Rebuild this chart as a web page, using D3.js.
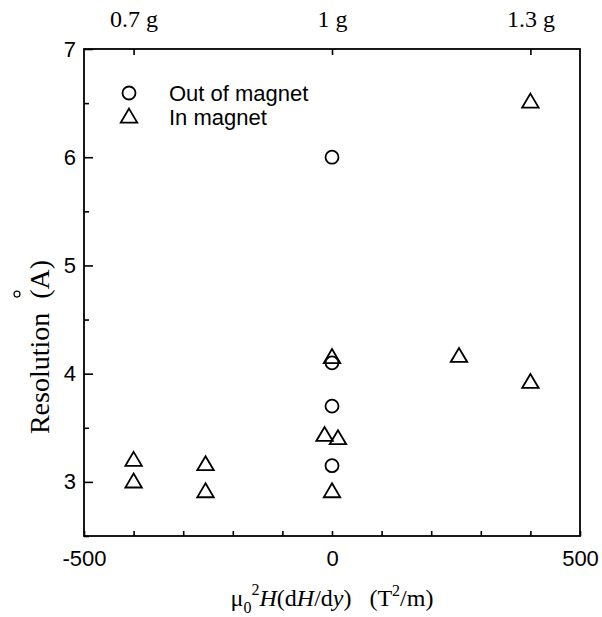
<!DOCTYPE html>
<html>
<head>
<meta charset="utf-8">
<script src="https://cdn.jsdelivr.net/npm/d3@7"></script>
<style>
  html, body { margin: 0; padding: 0; background: #fff; }
  svg { display: block; }
</style>
</head>
<body>
<div id="chart"></div>
<script>
// Field-gradient product μ0²H(dH/dy) in T²/m, resolution in Å
const outOfMagnetX = [0, 0, 0, 0];
const outOfMagnetY = [6.0, 4.1, 3.7, 3.15];

const inMagnetX = [-400, -400, -255, -255, 0, -15, 12, 0, 256, 400, 400];
const inMagnetY = [3.2, 3.0, 3.16, 2.91, 4.15, 3.43, 3.40, 2.91, 4.16, 6.51, 3.92];

const bottomTickValues = d3.range(-500, 501, 100);
const bottomTickLabels = { "-500": "-500", "0": "0", "500": "500" };
const leftTickValues = d3.range(2.5, 7.01, 0.5);
const topTickValues = [-400, 0, 400];
const topTickLabels = ["0.7 g", "1 g", "1.3 g"];

const legendLabels = ["Out of magnet", "In magnet"];

const W = 602, H = 617;
const margin = { left: 84, right: 22, top: 49, bottom: 81 };

const svg = d3.select("#chart").append("svg")
  .attr("width", W).attr("height", H);

const x = d3.scaleLinear().domain([-500, 500]).range([margin.left, W - margin.right]);
const y = d3.scaleLinear().domain([2.5, 7]).range([H - margin.bottom, margin.top]);

const sans = "'Liberation Sans', Arial, sans-serif";
const serif = "'Liberation Serif', 'Times New Roman', serif";

// Frame
svg.append("rect")
  .attr("x", x(-500)).attr("y", y(7))
  .attr("width", x(500) - x(-500)).attr("height", y(2.5) - y(7))
  .attr("fill", "none").attr("stroke", "#000").attr("stroke-width", 1.8);

// Bottom axis: inward ticks every 100, labels at -500, 0, 500
const bottomAxis = d3.axisBottom(x)
  .tickValues(bottomTickValues)
  .tickSizeInner(-5).tickSizeOuter(0).tickPadding(14)
  .tickFormat(d => bottomTickLabels[String(d)] || "");
const gb = svg.append("g").attr("transform", `translate(0,${y(2.5)})`).call(bottomAxis);
gb.select(".domain").remove();
gb.selectAll(".tick line").attr("stroke-width", 1.6);
gb.selectAll(".tick text").attr("font-family", sans).attr("font-size", 22).attr("fill", "#000");

// Left axis: major ticks at integers, minor at halves
const gl = svg.append("g").attr("transform", `translate(${x(-500)},0)`)
  .call(d3.axisLeft(y).tickValues(leftTickValues).tickSizeInner(0).tickSizeOuter(0).tickPadding(8)
    .tickFormat(d => Number.isInteger(d) ? String(d) : ""));
gl.select(".domain").remove();
gl.selectAll(".tick").each(function(d) {
  const len = Number.isInteger(d) ? 9 : 5;
  d3.select(this).select("line").attr("x2", len).attr("stroke", "#000").attr("stroke-width", 1.6);
});
gl.selectAll(".tick text").attr("font-family", sans).attr("font-size", 22).attr("fill", "#000");

// Top axis: gravity-equivalent labels
const gt = svg.append("g").attr("transform", `translate(0,${y(7)})`)
  .call(d3.axisTop(x).tickValues(topTickValues).tickSizeInner(-6).tickSizeOuter(0).tickPadding(22)
    .tickFormat((d, i) => topTickLabels[i]));
gt.select(".domain").remove();
gt.selectAll(".tick line").attr("stroke-width", 1.6);
gt.selectAll(".tick text").attr("font-family", serif).attr("font-size", 24).attr("fill", "#000")
  .attr("xml:space", "preserve").style("white-space", "pre");

// Marker shapes
const circleR = 6.5;
function trianglePath(cx, cy) {
  const w = 16.5, h = 14;
  return `M${cx},${cy - h * 0.6}L${cx + w / 2},${cy + h * 0.4}L${cx - w / 2},${cy + h * 0.4}Z`;
}

const pts = svg.append("g").attr("fill", "none").attr("stroke", "#000").attr("stroke-width", 1.8);

pts.selectAll("path.tri")
  .data(d3.range(inMagnetX.length))
  .join("path").attr("class", "tri")
  .attr("d", i => trianglePath(x(inMagnetX[i]), y(inMagnetY[i])));

pts.selectAll("circle.out")
  .data(d3.range(outOfMagnetX.length))
  .join("circle").attr("class", "out")
  .attr("cx", i => x(outOfMagnetX[i]))
  .attr("cy", i => y(outOfMagnetY[i]))
  .attr("r", circleR);

// Legend
const lg = svg.append("g");
const legendSymX = 129, legendTextX = 169;
const legendRowY = [93, 117];
lg.append("circle").attr("cx", legendSymX).attr("cy", legendRowY[0]).attr("r", circleR)
  .attr("fill", "none").attr("stroke", "#000").attr("stroke-width", 1.8);
lg.append("path").attr("d", trianglePath(legendSymX, legendRowY[1]))
  .attr("fill", "none").attr("stroke", "#000").attr("stroke-width", 1.8);
legendLabels.forEach((t, i) => {
  lg.append("text").attr("x", legendTextX).attr("y", legendRowY[i]).attr("dy", "0.36em")
    .attr("font-family", sans).attr("font-size", 22).attr("fill", "#000").text(t);
});

// X axis title: μ0²H(dH/dy)   (T²/m)
const xt = svg.append("text")
  .attr("x", (x(-500) + x(500)) / 2).attr("y", 606)
  .attr("text-anchor", "middle")
  .attr("font-family", serif).attr("font-size", 24).attr("fill", "#000")
  .attr("xml:space", "preserve").style("white-space", "pre");
xt.append("tspan").text("μ");
xt.append("tspan").attr("font-size", 16).attr("dy", 7).text("0");
xt.append("tspan").attr("font-size", 16).attr("dy", -18).text("2");
xt.append("tspan").attr("dy", 11).attr("font-style", "italic").text("H");
xt.append("tspan").text("(d");
xt.append("tspan").attr("font-style", "italic").text("H");
xt.append("tspan").text("/d");
xt.append("tspan").attr("font-style", "italic").text("y");
xt.append("tspan").text(")   (T");
xt.append("tspan").attr("font-size", 16).attr("dy", -10).text("2");
xt.append("tspan").attr("dy", 10).text("/m)");

// Y axis title: Resolution (Å) with the ring set above the A
const yg = svg.append("g").attr("transform", "translate(49,347) rotate(-90)");
const yt = yg.append("text")
  .attr("x", 0).attr("y", 0).attr("text-anchor", "middle")
  .attr("font-family", serif).attr("font-size", 28).attr("fill", "#000")
  .attr("xml:space", "preserve").style("white-space", "pre")
  .text("Resolution  (A)");
const node = yt.node();
const full = node.getComputedTextLength();
const aStart = node.getSubStringLength(0, 12);
const aWidth = node.getSubStringLength(12, 1);
yg.append("circle")
  .attr("cx", -full / 2 + aStart + aWidth / 2)
  .attr("cy", -32)
  .attr("r", 3)
  .attr("fill", "none").attr("stroke", "#000").attr("stroke-width", 1.2);
</script>
</body>
</html>
